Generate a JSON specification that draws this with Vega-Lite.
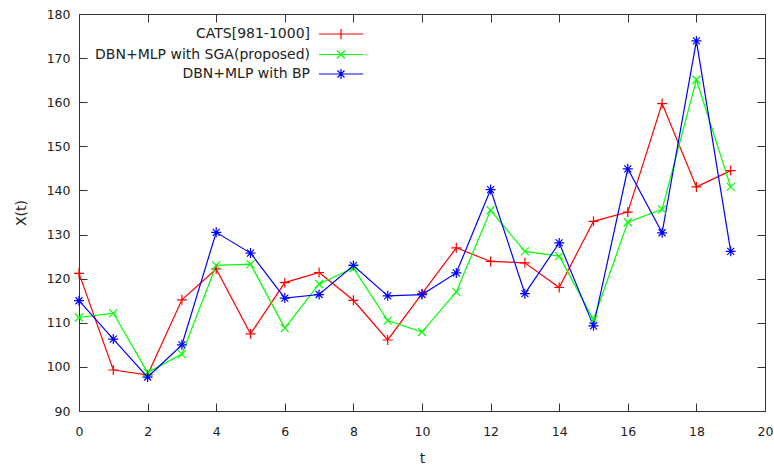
{
  "$schema": "https://vega.github.io/schema/vega-lite/v6.json",
  "width": 686,
  "height": 397,
  "autosize": "none",
  "padding": {"left": 79, "top": 14, "right": 9, "bottom": 58},
  "background": "white",
  "config": {
    "view": {"stroke": "#333", "strokeWidth": 1},
    "font": "DejaVu Sans",
    "axis": {
      "grid": false,
      "domain": false,
      "tickColor": "#333",
      "tickWidth": 1,
      "labelColor": "#222",
      "labelFont": "DejaVu Sans",
      "labelFontSize": 12.5,
      "titleFont": "DejaVu Sans",
      "titleFontSize": 14,
      "titleFontWeight": "normal",
      "titleColor": "#222"
    }
  },
  "data": {
    "values": [
      {"t": 0, "v": 121.2, "s": "CATS[981-1000]"},
      {"t": 1, "v": 99.3, "s": "CATS[981-1000]"},
      {"t": 2, "v": 98.2, "s": "CATS[981-1000]"},
      {"t": 3, "v": 115.2, "s": "CATS[981-1000]"},
      {"t": 4, "v": 122.2, "s": "CATS[981-1000]"},
      {"t": 5, "v": 107.5, "s": "CATS[981-1000]"},
      {"t": 6, "v": 119.1, "s": "CATS[981-1000]"},
      {"t": 7, "v": 121.4, "s": "CATS[981-1000]"},
      {"t": 8, "v": 115.1, "s": "CATS[981-1000]"},
      {"t": 9, "v": 106.1, "s": "CATS[981-1000]"},
      {"t": 10, "v": 116.6, "s": "CATS[981-1000]"},
      {"t": 11, "v": 127.0, "s": "CATS[981-1000]"},
      {"t": 12, "v": 123.9, "s": "CATS[981-1000]"},
      {"t": 13, "v": 123.6, "s": "CATS[981-1000]"},
      {"t": 14, "v": 118.0, "s": "CATS[981-1000]"},
      {"t": 15, "v": 133.0, "s": "CATS[981-1000]"},
      {"t": 16, "v": 135.1, "s": "CATS[981-1000]"},
      {"t": 17, "v": 159.7, "s": "CATS[981-1000]"},
      {"t": 18, "v": 140.8, "s": "CATS[981-1000]"},
      {"t": 19, "v": 144.5, "s": "CATS[981-1000]"},
      {"t": 0, "v": 111.2, "s": "DBN+MLP with SGA(proposed)"},
      {"t": 1, "v": 112.2, "s": "DBN+MLP with SGA(proposed)"},
      {"t": 2, "v": 98.7, "s": "DBN+MLP with SGA(proposed)"},
      {"t": 3, "v": 102.9, "s": "DBN+MLP with SGA(proposed)"},
      {"t": 4, "v": 123.0, "s": "DBN+MLP with SGA(proposed)"},
      {"t": 5, "v": 123.3, "s": "DBN+MLP with SGA(proposed)"},
      {"t": 6, "v": 108.8, "s": "DBN+MLP with SGA(proposed)"},
      {"t": 7, "v": 118.8, "s": "DBN+MLP with SGA(proposed)"},
      {"t": 8, "v": 122.4, "s": "DBN+MLP with SGA(proposed)"},
      {"t": 9, "v": 110.5, "s": "DBN+MLP with SGA(proposed)"},
      {"t": 10, "v": 107.9, "s": "DBN+MLP with SGA(proposed)"},
      {"t": 11, "v": 117.0, "s": "DBN+MLP with SGA(proposed)"},
      {"t": 12, "v": 135.5, "s": "DBN+MLP with SGA(proposed)"},
      {"t": 13, "v": 126.2, "s": "DBN+MLP with SGA(proposed)"},
      {"t": 14, "v": 125.1, "s": "DBN+MLP with SGA(proposed)"},
      {"t": 15, "v": 110.7, "s": "DBN+MLP with SGA(proposed)"},
      {"t": 16, "v": 132.8, "s": "DBN+MLP with SGA(proposed)"},
      {"t": 17, "v": 135.7, "s": "DBN+MLP with SGA(proposed)"},
      {"t": 18, "v": 165.1, "s": "DBN+MLP with SGA(proposed)"},
      {"t": 19, "v": 140.8, "s": "DBN+MLP with SGA(proposed)"},
      {"t": 0, "v": 115.0, "s": "DBN+MLP with BP"},
      {"t": 1, "v": 106.3, "s": "DBN+MLP with BP"},
      {"t": 2, "v": 97.7, "s": "DBN+MLP with BP"},
      {"t": 3, "v": 105.0, "s": "DBN+MLP with BP"},
      {"t": 4, "v": 130.5, "s": "DBN+MLP with BP"},
      {"t": 5, "v": 125.8, "s": "DBN+MLP with BP"},
      {"t": 6, "v": 115.6, "s": "DBN+MLP with BP"},
      {"t": 7, "v": 116.4, "s": "DBN+MLP with BP"},
      {"t": 8, "v": 123.0, "s": "DBN+MLP with BP"},
      {"t": 9, "v": 116.1, "s": "DBN+MLP with BP"},
      {"t": 10, "v": 116.4, "s": "DBN+MLP with BP"},
      {"t": 11, "v": 121.3, "s": "DBN+MLP with BP"},
      {"t": 12, "v": 140.2, "s": "DBN+MLP with BP"},
      {"t": 13, "v": 116.6, "s": "DBN+MLP with BP"},
      {"t": 14, "v": 128.1, "s": "DBN+MLP with BP"},
      {"t": 15, "v": 109.3, "s": "DBN+MLP with BP"},
      {"t": 16, "v": 144.9, "s": "DBN+MLP with BP"},
      {"t": 17, "v": 130.4, "s": "DBN+MLP with BP"},
      {"t": 18, "v": 173.9, "s": "DBN+MLP with BP"},
      {"t": 19, "v": 126.2, "s": "DBN+MLP with BP"}
    ]
  },
  "layer": [
    {
      "mark": {"type": "line", "strokeWidth": 1.2},
      "encoding": {
        "x": {
          "field": "t", "type": "quantitative",
          "scale": {"domain": [0, 20], "nice": false, "zero": false},
          "axis": {"orient": "bottom", "values": [0,2,4,6,8,10,12,14,16,18,20], "tickSize": -8, "labelPadding": 22, "title": "t", "titlePadding": 14, "labelFlush": false}
        },
        "y": {
          "field": "v", "type": "quantitative",
          "scale": {"domain": [90, 180], "nice": false, "zero": false},
          "axis": {"orient": "left", "values": [90,100,110,120,130,140,150,160,170,180], "tickSize": -8, "labelPadding": 17, "title": "X(t)", "titlePadding": 18, "labelFlush": false}
        },
        "color": {
          "field": "s", "type": "nominal",
          "scale": {"domain": ["CATS[981-1000]", "DBN+MLP with SGA(proposed)", "DBN+MLP with BP"], "range": ["#ff0000", "#00ff00", "#0000ff"]},
          "legend": {
            "orient": "none", "legendX": 240, "legendY": 9, "title": null,
            "padding": 0, "rowPadding": 1.5, "labelLimit": 400,
            "labelFont": "DejaVu Sans", "labelFontSize": 14, "labelColor": "#222",
            "symbolSize": 400, "symbolStrokeWidth": 1.2,
            "encode": {
              "symbols": {"update": {
                "x": {"value": 22},
                "fill": {"value": "transparent"},
                "shape": {"signal": "datum.value === 'CATS[981-1000]' ? 'M-2.2,0H2.2M0,-0.5V0.5' : datum.value === 'DBN+MLP with SGA(proposed)' ? 'M-2.2,0H2.2M-0.4,-0.4L0.4,0.4M-0.4,0.4L0.4,-0.4' : 'M-2.2,0H2.2M-0.5,0H0.5M0,-0.5V0.5M-0.35,-0.35L0.35,0.35M-0.35,0.35L0.35,-0.35'"}
              }},
              "labels": {"update": {"x": {"value": -9}, "align": {"value": "right"}}}
            }
          }
        }
      }
    },
    {
      "transform": [{"filter": "datum.s === 'CATS[981-1000]'"}],
      "mark": {"type": "point", "filled": false, "strokeWidth": 1.2, "opacity": 1, "size": 100, "shape": "M-1,0H1M0,-1V1", "color": "#ff0000"},
      "encoding": {
        "x": {"field": "t", "type": "quantitative", "axis": null},
        "y": {"field": "v", "type": "quantitative", "axis": null}
      }
    },
    {
      "transform": [{"filter": "datum.s === 'DBN+MLP with SGA(proposed)'"}],
      "mark": {"type": "point", "filled": false, "strokeWidth": 1.2, "opacity": 1, "size": 100, "shape": "M-0.8,-0.8L0.8,0.8M-0.8,0.8L0.8,-0.8", "color": "#00ff00"},
      "encoding": {
        "x": {"field": "t", "type": "quantitative", "axis": null},
        "y": {"field": "v", "type": "quantitative", "axis": null}
      }
    },
    {
      "transform": [{"filter": "datum.s === 'DBN+MLP with BP'"}],
      "mark": {"type": "point", "filled": false, "strokeWidth": 1.2, "opacity": 1, "size": 100, "shape": "M-1,0H1M0,-1V1M-0.7,-0.7L0.7,0.7M-0.7,0.7L0.7,-0.7", "color": "#0000ff"},
      "encoding": {
        "x": {
          "field": "t", "type": "quantitative",
          "axis": {"orient": "top", "values": [0,2,4,6,8,10,12,14,16,18,20], "tickSize": -8, "labels": false, "title": null}
        },
        "y": {
          "field": "v", "type": "quantitative",
          "axis": {"orient": "right", "values": [90,100,110,120,130,140,150,160,170,180], "tickSize": -8, "labels": false, "title": null}
        }
      }
    }
  ],
  "resolve": {"axis": {"x": "independent", "y": "independent"}}
}
